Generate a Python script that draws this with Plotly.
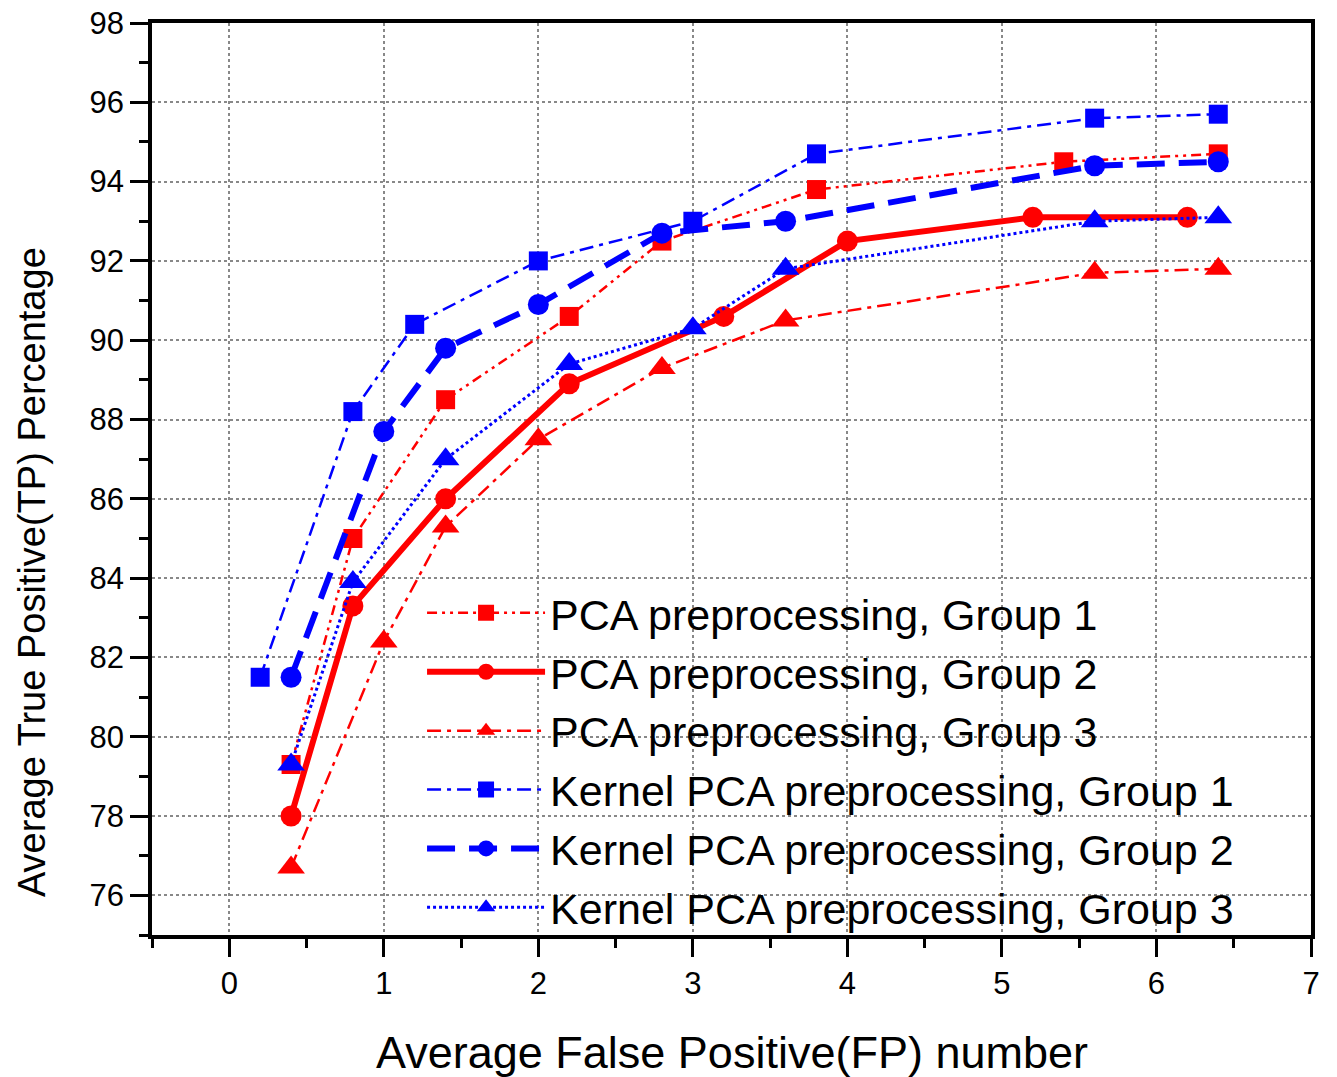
import plotly.graph_objects as go

# Data
pca_g1_x = [0.4, 0.8, 1.4, 2.2, 2.8, 3.8, 5.4, 6.4]
pca_g1_y = [79.3, 85.0, 88.5, 90.6, 92.5, 93.8, 94.5, 94.7]

pca_g2_x = [0.4, 0.8, 1.4, 2.2, 3.2, 4.0, 5.2, 6.2]
pca_g2_y = [78.0, 83.3, 86.0, 88.9, 90.6, 92.5, 93.1, 93.1]

pca_g3_x = [0.4, 1.0, 1.4, 2.0, 2.8, 3.6, 5.6, 6.4]
pca_g3_y = [76.7, 82.4, 85.3, 87.5, 89.3, 90.5, 91.7, 91.8]

kpca_g1_x = [0.2, 0.8, 1.2, 2.0, 3.0, 3.8, 5.6, 6.4]
kpca_g1_y = [81.5, 88.2, 90.4, 92.0, 93.0, 94.7, 95.6, 95.7]

kpca_g2_x = [0.4, 1.0, 1.4, 2.0, 2.8, 3.6, 5.6, 6.4]
kpca_g2_y = [81.5, 87.7, 89.8, 90.9, 92.7, 93.0, 94.4, 94.5]

kpca_g3_x = [0.4, 0.8, 1.4, 2.2, 3.0, 3.6, 5.6, 6.4]
kpca_g3_y = [79.3, 83.9, 87.0, 89.4, 90.3, 91.8, 93.0, 93.1]

series_names = [
    "PCA preprocessing, Group 1",
    "PCA preprocessing, Group 2",
    "PCA preprocessing, Group 3",
    "Kernel PCA preprocessing, Group 1",
    "Kernel PCA preprocessing, Group 2",
    "Kernel PCA preprocessing, Group 3",
]

x_title = "Average False Positive(FP) number"
y_title = "Average True Positive(TP) Percentage"

RED = "#ff0000"
BLUE = "#0000ff"
FONT = "Liberation Sans"

styles = [
    (pca_g1_x, pca_g1_y, RED, 2.5, "10px,5px,3px,5px,3px,5px", "square", 19),
    (pca_g2_x, pca_g2_y, RED, 6, "solid", "circle", 21),
    (pca_g3_x, pca_g3_y, RED, 2.5, "14px,6px,4px,6px", "triangle-up", 24),
    (kpca_g1_x, kpca_g1_y, BLUE, 2.5, "14px,6px,4px,6px", "square", 19),
    (kpca_g2_x, kpca_g2_y, BLUE, 6, "28px,14px", "circle", 21),
    (kpca_g3_x, kpca_g3_y, BLUE, 3, "3px,3px", "triangle-up", 24),
]

fig = go.Figure()
for name, (xs, ys, col, lw, dash, sym, ms) in zip(series_names, styles):
    fig.add_trace(go.Scatter(
        x=xs, y=ys, name=name, mode="lines+markers",
        line=dict(color=col, width=lw, dash=dash),
        marker=dict(symbol=sym, size=ms, color=col, line=dict(width=0)),
    ))

axis_common = dict(
    showline=True, linecolor="black", linewidth=3.5, mirror=True,
    ticks="outside", ticklen=18, tickwidth=3, tickcolor="black",
    showgrid=True, gridcolor="#888888", gridwidth=1.5, griddash="dot",
    zeroline=False, automargin=False,
    tickfont=dict(family=FONT, size=31, color="black"),
)

fig.update_xaxes(
    range=[-0.5, 7], tick0=0, dtick=1,
    minor=dict(ticks="outside", ticklen=9, tickwidth=3, tickcolor="black", dtick=0.5, showgrid=False),
    **axis_common,
)
fig.update_yaxes(
    range=[75, 98], tick0=76, dtick=2,
    minor=dict(ticks="outside", ticklen=9, tickwidth=3, tickcolor="black", dtick=1, showgrid=False),
    **axis_common,
)

fig.add_annotation(
    text=x_title, showarrow=False,
    xref="paper", yref="paper", x=0.5, y=-0.129,
    xanchor="center", yanchor="middle",
    font=dict(family=FONT, size=45, color="black"),
)
fig.add_annotation(
    text=y_title, textangle=-90, showarrow=False,
    xref="paper", yref="paper", x=-0.1035, y=0.398,
    xanchor="center", yanchor="middle",
    font=dict(family=FONT, size=38, color="black"),
)

fig.update_layout(
    width=1337, height=1077,
    margin=dict(l=152, r=26, t=23, b=142, autoexpand=False),
    plot_bgcolor="white", paper_bgcolor="white",
    font=dict(family=FONT, color="black"),
    showlegend=True,
    legend=dict(
        x=0.233, y=0.391, xanchor="left", yanchor="top",
        bgcolor="rgba(0,0,0,0)", borderwidth=0,
        font=dict(family=FONT, size=43, color="black"),
        itemwidth=118, tracegroupgap=0,
    ),
)

fig.write_html("out.html")
